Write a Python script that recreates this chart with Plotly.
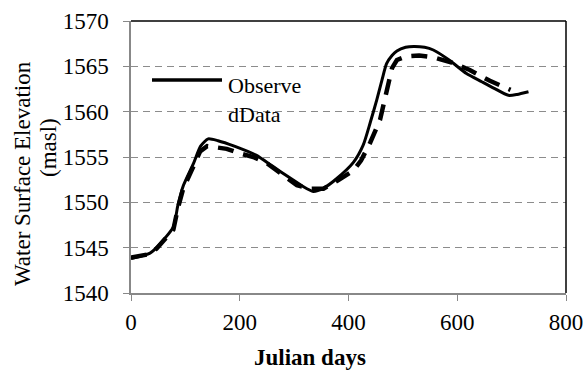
import plotly.graph_objects as go

obs_days = [0, 35, 47, 78, 86, 96, 115, 128, 142, 160, 190, 230, 260, 292, 315, 335, 355, 378, 409, 427, 440, 452, 462, 470, 480, 489, 505, 520, 540, 556, 585, 617, 645, 667, 694, 710, 731]
obs_elev = [1543.8, 1544.4, 1545.0, 1547.3, 1549.6, 1551.8, 1554.3, 1556.2, 1557.0, 1556.8, 1556.2, 1555.2, 1554.0, 1552.7, 1551.8, 1551.2, 1551.6, 1552.6, 1554.4, 1556.3, 1558.8, 1561.3, 1563.6, 1565.3, 1566.2, 1566.7, 1567.1, 1567.2, 1567.1, 1566.8, 1565.7, 1564.2, 1563.3, 1562.6, 1561.8, 1561.9, 1562.2]

sim_days = [0, 35, 47, 78, 86, 96, 115, 127, 140, 155, 176, 200, 225, 250, 280, 305, 330, 354, 380, 409, 423, 440, 458, 470, 480, 489, 507, 530, 556, 590, 623, 660, 691, 698]
sim_elev = [1543.9, 1544.3, 1544.9, 1547.0, 1549.3, 1551.5, 1554.0, 1555.6, 1556.2, 1556.1, 1555.9, 1555.4, 1555.0, 1554.3, 1553.0, 1551.9, 1551.5, 1551.5, 1552.4, 1553.5, 1554.6, 1556.6, 1559.1, 1562.5, 1564.8, 1565.7, 1566.1, 1566.2, 1566.0, 1565.4, 1564.6, 1563.4, 1562.5, 1562.4]

x_ticks = [0, 200, 400, 600, 800]
y_ticks = [1540, 1545, 1550, 1555, 1560, 1565, 1570]

W, H = 585, 372
L, R, T, B = 131, 19, 21, 79
PW, PH = W - L - R, H - T - B

def px(xp):
    return (xp - L) / PW

def py(yp):
    return (H - B - yp) / PH

fig = go.Figure()
fig.add_trace(go.Scatter(x=sim_days, y=sim_elev, mode="lines", line=dict(color="black", width=4.5, dash="16px,10px"), showlegend=False))
fig.add_trace(go.Scatter(x=obs_days, y=obs_elev, mode="lines", line=dict(color="black", width=3, shape="spline", smoothing=0.6), showlegend=False))

font = "Liberation Serif, Times New Roman, serif"
fig.update_layout(
    width=W, height=H,
    margin=dict(l=L, r=R, t=T, b=B, autoexpand=False),
    paper_bgcolor="white", plot_bgcolor="white",
    font=dict(family=font, size=23, color="black"),
    xaxis=dict(range=[0, 800], tickvals=x_ticks, ticks="outside", ticklen=6, tickcolor="#888888",
               showline=True, linecolor="#888888", linewidth=1.5, showgrid=False, zeroline=False,
               tickfont=dict(size=23, family=font), ticklabelstandoff=2, automargin=False),
    yaxis=dict(range=[1540, 1570], tickvals=y_ticks, ticks="outside", ticklen=6, tickcolor="#888888",
               showline=True, linecolor="#888888", linewidth=1.5, showgrid=True, gridcolor="#8c8c8c",
               griddash="7px,5px", gridwidth=1.3, zeroline=False,
               tickfont=dict(size=23, family=font), ticklabelstandoff=10, automargin=False),
)
# x axis title
fig.add_annotation(xref="paper", yref="paper", x=px(310), y=py(357), xanchor="center", yanchor="middle",
                   text="<b>Julian days</b>", showarrow=False, font=dict(size=23, family=font))
# y axis title (two lines)
fig.add_annotation(xref="paper", yref="paper", x=px(22), y=py(174), xanchor="center", yanchor="middle",
                   text="Water Surface Elevation", textangle=-90, showarrow=False, font=dict(size=23, family=font))
fig.add_annotation(xref="paper", yref="paper", x=px(48), y=py(148), xanchor="center", yanchor="middle",
                   text="(masl)", textangle=-90, showarrow=False, font=dict(size=23, family=font))
# top and right black border
fig.add_shape(type="line", xref="paper", yref="paper", x0=0, x1=1, y0=1, y1=1, line=dict(color="black", width=1.5))
fig.add_shape(type="line", xref="paper", yref="paper", x0=1, x1=1, y0=0, y1=1, line=dict(color="black", width=1.5))
# legend sample
fig.add_shape(type="line", xref="paper", yref="paper", x0=px(152), x1=px(222), y0=py(80), y1=py(80), line=dict(color="black", width=3.5))
fig.add_annotation(xref="paper", yref="paper", x=px(226), y=py(100), xanchor="left", yanchor="middle",
                   text="Observe<br>dData", align="left", showarrow=False, font=dict(size=22, family=font))
fig.write_html("out.html")
